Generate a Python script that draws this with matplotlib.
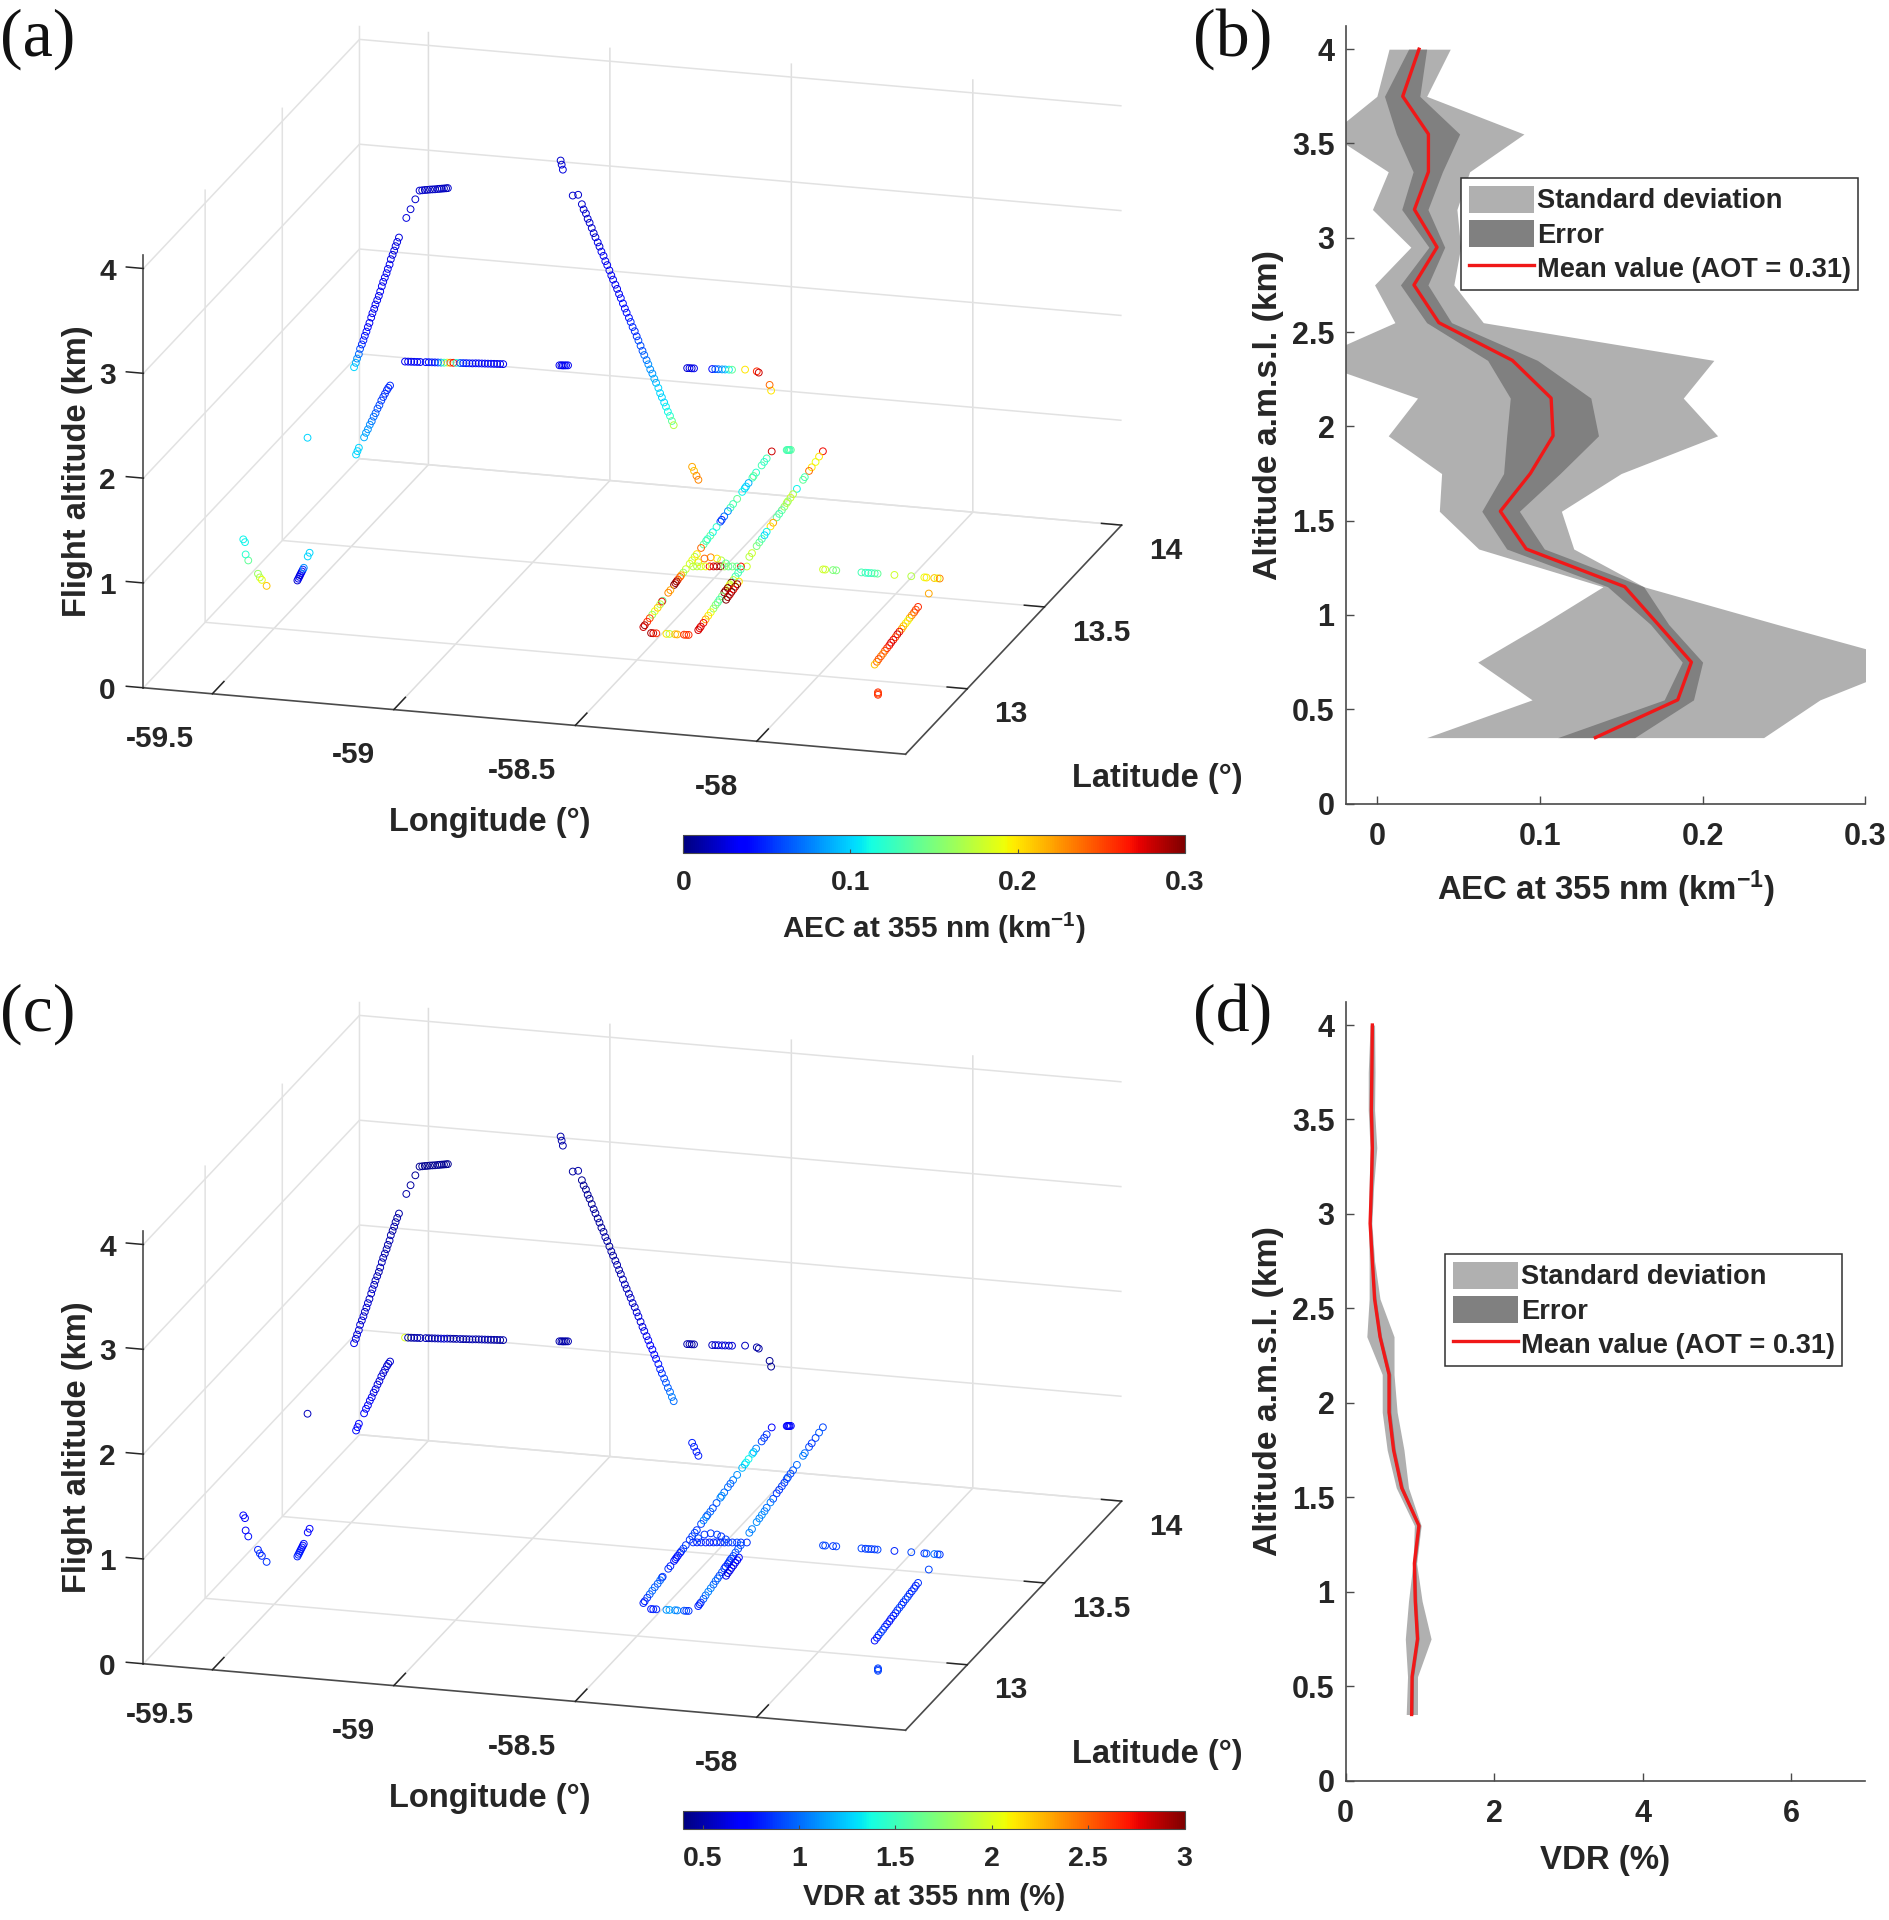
import numpy as np
import matplotlib
matplotlib.use("Agg")
import matplotlib.pyplot as plt
from matplotlib.patches import Patch
from matplotlib.lines import Line2D
from matplotlib.colors import Normalize
from matplotlib.cm import ScalarMappable
from matplotlib.text import Text

plt.rcParams['font.family'] = ['Liberation Sans', 'DejaVu Sans']
plt.rcParams['font.weight'] = 'bold'
plt.rcParams['axes.labelweight'] = 'bold'
plt.rcParams['mathtext.fontset'] = 'custom'
plt.rcParams['mathtext.rm'] = 'Liberation Sans:bold'
plt.rcParams['mathtext.bf'] = 'Liberation Sans:bold'
plt.rcParams['mathtext.default'] = 'bf'

W, H = 1890, 1920
# ---------------- flight tracks (lon, lat, alt, AEC, VDR) ----------------
a_lon = [-59.420,-59.416,-59.413,-59.409,-59.406,-59.402,-59.398,-59.395,-59.391,-59.388,-59.384,-59.380,-59.377,-59.373,-59.370,-59.366,-59.362,-59.359,-59.355,-59.352,-59.348,-59.344,-59.341,-59.337,-59.334,-59.330,-59.326,-59.323,-59.319,-59.315]
a_lat = [13.330,13.332,13.333,13.335,13.336,13.338,13.339,13.341,13.342,13.344,13.345,13.347,13.348,13.350,13.351,13.353,13.354,13.356,13.357,13.359,13.360,13.362,13.363,13.365,13.366,13.368,13.369,13.371,13.372,13.374]
a_alt = [2.00,2.04,2.08,2.12,2.17,2.21,2.25,2.29,2.33,2.37,2.41,2.46,2.50,2.54,2.58,2.62,2.66,2.70,2.75,2.79,2.83,2.87,2.91,2.95,3.00,3.04,3.08,3.12,3.16,3.20]
a_aec = [.10,.09,.08,.07,.06,.05,.045,.04,.04,.035,.03,.03,.03,.03,.03,.03,.03,.03,.03,.03,.03,.03,.03,.03,.025,.025,.025,.025,.025,.025]
a_vdr = [.65,.6,.6,.62,.6,.58,.6,.55,.58,.6,.55,.55,.58,.55,.52,.55,.5,.52,.55,.5,.52,.5,.5,.52,.5,.48,.5,.5,.48,.5]

b_lon = [-59.293,-59.283,-59.272,-59.262,-59.256,-59.250,-59.244,-59.238,-59.232,-59.226,-59.220,-59.215,-59.210,-59.205,-59.200,-59.196]
b_lat = [13.370,13.374,13.379,13.383,13.386,13.389,13.391,13.394,13.396,13.398,13.401,13.403,13.405,13.407,13.409,13.411]
b_alt = [3.40,3.48,3.57,3.65,3.65,3.65,3.65,3.65,3.65,3.65,3.65,3.65,3.65,3.65,3.65,3.65]
b_aec = [.025,.02,.02,.02,.02,.015,.02,.015,.02,.015,.02,.015,.02,.015,.015,.02]
b_vdr = [.5,.48,.46,.45,.45,.44,.45,.44,.45,.44,.46,.45,.44,.45,.44,.45]

c_lon = [-59.457,-59.454,-59.451,-59.440,-59.436,-59.432,-59.428,-59.424,-59.420,-59.416,-59.412,-59.408,-59.404,-59.400,-59.396,-59.392,-59.389,-59.385]
c_lat = [13.430,13.432,13.434,13.442,13.445,13.448,13.451,13.454,13.457,13.460,13.463,13.466,13.469,13.472,13.474,13.477,13.479,13.481]
c_alt = [1.00,1.03,1.06,1.15,1.19,1.22,1.26,1.29,1.33,1.36,1.40,1.43,1.47,1.50,1.53,1.56,1.58,1.60]
c_aec = [.10,.10,.10,.09,.085,.08,.08,.07,.07,.065,.06,.06,.055,.055,.05,.05,.05,.05]
c_vdr = [.75,.72,.7,.68,.7,.66,.68,.64,.62,.64,.6,.62,.6,.58,.6,.58,.6,.58]

d_lon = [-59.646,-59.641,-59.635,-59.629,-59.623,-59.584,-59.578,-59.572,-59.558]
d_lat = [13.560,13.132,13.129,13.119,13.122,13.093,13.091,13.090,13.088]
d_alt = [.90,.60,.58,.48,.42,.35,.32,.30,.25]
d_aec = [.10,.11,.11,.12,.14,.16,.17,.19,.21]
d_vdr = [.55,.72,.68,.72,.76,.8,.85,.82,.85]

e_lon = [-59.480,-59.477,-59.474,-59.471,-59.468,-59.465,-59.462,-59.459,-59.446,-59.440]
e_lat = [13.104,13.103,13.102,13.100,13.099,13.098,13.097,13.096,13.091,13.089]
e_alt = [.30,.32,.34,.36,.38,.40,.42,.44,.56,.60]
e_aec = [.02,.03,.03,.02,.03,.03,.05,.08,.10,.10]
e_vdr = [.8,.82,.78,.8,.76,.78,.74,.76,.7,.72]

f_lon = [-59.052,-59.044,-59.036,-59.028,-59.020,-59.012,-58.998,-58.990,-58.982,-58.974,-58.966,-58.958,-58.950,-58.942,-58.934,-58.926,-58.918,-58.908,-58.900,-58.892,-58.884,-58.876,-58.868,-58.860,-58.852,-58.844,-58.836,-58.828,-58.820,-58.812,-58.804,-58.796,
         -58.650,-58.645,-58.641,-58.637,-58.633,-58.628,
         -58.318,-58.312,-58.306,-58.300,
         -58.252,-58.244,-58.236,-58.226,-58.218,-58.208,-58.200,-58.167,-58.133,-58.125,-58.093,-58.088]
f_lat = [12.795,12.796,12.797,12.798,12.799,12.800,12.802,12.803,12.804,12.805,12.806,12.807,12.808,12.810,12.811,12.812,12.813,12.814,12.815,12.816,12.817,12.818,12.820,12.821,12.822,12.823,12.824,12.825,12.826,12.827,12.828,12.829,
         12.850,12.851,12.851,12.852,12.853,12.854,
         12.897,12.898,12.898,12.899,
         12.904,12.905,12.906,12.907,12.908,12.909,12.910,12.917,12.913,12.907,12.902,12.900]
f_alt = [3.00]*52 + [2.90,2.85]
f_aec = [.03,.03,.03,.03,.04,.03,.04,.04,.05,.04,.05,.08,.13,.19,.24,.27,.12,.06,.05,.04,.05,.03,.04,.03,.04,.03,.03,.04,.03,.03,.03,.03,
         .03,.02,.03,.04,.03,.03,
         .02,.03,.02,.03,
         .04,.06,.07,.08,.09,.11,.14,.20,.26,.28,.24,.20]
f_vdr = [2.0,.5,.48,.5,.52,.5,.55,.5,.48,.52,.5,.55,.6,.5,.52,.48,.5,.52,.5,.48,.5,.52,.5,.48,.5,.52,.5,.48,.5,.5,.48,.5,
         .5,.52,.5,.48,.5,.52,
         .5,.52,.48,.5,
         .55,.6,.58,.62,.6,.58,.6,.55,.5,.48,.45,.45]

g_lon = [-58.887,-58.882,-58.877,-58.840,-58.828,
         -58.811,-58.804,-58.796,-58.789,-58.782,-58.774,-58.767,-58.760,-58.752,-58.745,-58.738,-58.730,-58.723,-58.716,-58.708,-58.701,-58.694,-58.686,-58.679,-58.672,-58.665,-58.657,-58.650,-58.643,-58.635,-58.628,-58.621,-58.613,-58.606,-58.599,-58.591,-58.584,-58.577,-58.569,-58.562,-58.555,-58.547,-58.540,-58.533,-58.525,-58.518,-58.511,-58.503,-58.496,-58.489,-58.481,-58.474,-58.467]
g_lat = [13.415,13.410,13.406,13.383,13.390,
         13.374,13.369,13.365,13.360,13.356,13.351,13.347,13.342,13.338,13.333,13.329,13.324,13.319,13.315,13.310,13.306,13.301,13.297,13.292,13.288,13.283,13.278,13.274,13.269,13.265,13.260,13.256,13.251,13.247,13.242,13.237,13.233,13.228,13.224,13.219,13.215,13.210,13.206,13.201,13.197,13.192,13.187,13.183,13.178,13.174,13.169,13.165,13.160]
g_alt = [4.00,3.97,3.93,3.73,3.73,
         3.67,3.63,3.60,3.56,3.53,3.49,3.45,3.42,3.38,3.35,3.31,3.28,3.24,3.21,3.17,3.13,3.10,3.06,3.03,2.99,2.96,2.92,2.88,2.85,2.81,2.78,2.74,2.71,2.67,2.64,2.60,2.56,2.53,2.49,2.46,2.42,2.39,2.35,2.32,2.28,2.24,2.21,2.17,2.14,2.10,2.07,2.03,2.00]
g_aec = [.02,.02,.025,.02,.02,
         .02,.02,.02,.02,.02,.02,.02,.02,.03,.02,.03,.03,.03,.03,.03,.03,.03,.03,.03,.03,.04,.04,.04,.04,.04,.05,.05,.05,.05,.06,.06,.06,.07,.07,.08,.08,.08,.09,.09,.10,.10,.10,.10,.11,.11,.12,.14,.17]
g_vdr = [.5,.5,.5,.48,.5,
         .45,.46,.45,.47,.45,.46,.48,.46,.47,.48,.46,.48,.5,.48,.47,.5,.48,.5,.52,.5,.5,.52,.55,.52,.55,.55,.58,.55,.6,.62,.6,.62,.65,.65,.68,.7,.7,.72,.75,.78,.8,.85,.9,.95,.95,1.,1.05,1.]

h_lon = [-58.446,-58.439,-58.431,-58.424]
h_lat = [13.230,13.226,13.223,13.219]
h_alt = [1.50,1.47,1.43,1.40]
h_aec = [.22,.21,.23,.23]
h_vdr = [.8,.82,.78,.8]

i_lon = [-58.437,-58.438,-58.440,-58.442,-58.444,-58.446,-58.447,-58.449,-58.451,-58.451,-58.456,-58.457,-58.460,-58.461,-58.462,-58.463,-58.464,-58.465,-58.466,-58.468,-58.471,-58.473,-58.475,-58.476,-58.480,-58.482,-58.484,-58.485,-58.486,-58.488,-58.491,-58.494,-58.495,-58.497,-58.500,-58.502,-58.504,-58.506,-58.510,-58.512,-58.513,-58.515,-58.518,-58.519,-58.521,-58.524,-58.526,-58.528,-58.532]
i_lat = [12.893,12.904,12.925,12.946,12.967,12.988,13.009,13.030,13.046,13.051,13.099,13.115,13.146,13.157,13.167,13.178,13.194,13.204,13.220,13.241,13.273,13.294,13.315,13.331,13.368,13.389,13.410,13.421,13.442,13.463,13.494,13.526,13.537,13.558,13.589,13.610,13.632,13.663,13.705,13.726,13.737,13.758,13.790,13.800,13.821,13.864,13.885,13.906,13.948]
i_alt = [.50]*49
i_aec = [.28,.29,.26,.25,.16,.19,.21,.17,.27,.14,.23,.22,.30,.29,.29,.25,.24,.22,.16,.18,.18,.19,.17,.20,.24,.14,.13,.12,.14,.11,.12,.06,.05,.07,.08,.13,.13,.14,.11,.10,.10,.09,.13,.14,.12,.13,.12,.13,.28]
i_vdr = [.8,.82,.85,.95,1.,.95,.95,1.,.85,.9,.85,.8,.78,.75,.8,.75,.8,.85,.9,.85,.85,.9,.9,.85,.9,1.1,1.,.95,1.,.9,.95,1.05,1.1,1.,1.,.95,1.05,1.1,1.2,1.3,1.35,1.35,1.3,1.2,1.05,.9,.85,.85,.7]

j_lon = [-58.497,-58.495,-58.492,-58.490,-58.487]
j_lat = [13.963,13.964,13.964,13.965,13.966]
j_alt = [.50,.50,.50,.50,.50]
j_aec = [.13,.14,.13,.13,.14]
j_vdr = [.7,.72,.68,.75,.7]

k_lon = [-58.290,-58.291,-58.292,-58.294,-58.297,-58.299,-58.301,-58.303,-58.306,-58.307,-58.309,-58.311,-58.314,-58.315,-58.316,-58.317,-58.319,-58.320,-58.321,-58.324,-58.326,-58.328,-58.336,-58.338,-58.343,-58.345,-58.347,-58.349,-58.352,-58.355,-58.357,-58.361,-58.363,-58.365,-58.367,-58.370,-58.371,-58.373,-58.375,-58.378,-58.384,-58.386,-58.390,-58.392,-58.395,-58.399,-58.402]
k_lat = [12.903,12.914,12.924,12.946,12.967,12.989,13.010,13.032,13.053,13.069,13.085,13.106,13.128,13.139,13.155,13.165,13.176,13.187,13.203,13.224,13.246,13.267,13.342,13.364,13.406,13.428,13.449,13.471,13.492,13.524,13.546,13.578,13.599,13.621,13.642,13.664,13.674,13.696,13.717,13.749,13.803,13.819,13.856,13.878,13.910,13.942,13.974]
k_alt = [.50]*47
k_aec = [.28,.27,.28,.27,.22,.20,.19,.16,.15,.14,.13,.15,.30,.29,.30,.19,.18,.30,.17,.13,.13,.13,.17,.18,.15,.14,.13,.10,.11,.20,.22,.14,.13,.14,.16,.17,.16,.18,.17,.11,.14,.13,.24,.20,.19,.20,.27]
k_vdr = [.8,.82,.85,.95,1.,1.05,1.05,.95,1.,.95,.9,.95,.85,.8,.85,.85,.9,.85,.9,.95,.9,.95,1.05,1.05,1.1,1.05,1.1,1.05,1.,1.05,.9,.85,.85,.9,.85,.95,.9,.9,.95,1.,1.05,1.,.9,.85,.9,.95,.9]

l_lon = [-58.403,-58.397,-58.389,-58.362,-58.354,-58.339,-58.333,-58.315,-58.309,-58.303]
l_lat = [12.863,12.863,12.864,12.866,12.867,12.868,12.868,12.870,12.870,12.871]
l_alt = [.50]*10
l_aec = [.29,.28,.26,.20,.17,.21,.22,.26,.25,.26]
l_vdr = [.78,.8,.82,1.1,1.15,1.1,1.05,.95,.9,.85]

m_lon = [-58.456,-58.446,-58.436,-58.424,-58.414,-58.404,-58.396,-58.386,-58.376,-58.366,-58.356,-58.344,-58.334,-58.319,
         -58.453,-58.446,-58.433,-58.414,-58.399,-58.380]
m_lat = [13.260,13.262,13.264,13.266,13.268,13.270,13.272,13.274,13.275,13.277,13.279,13.281,13.283,13.286,
         13.286,13.310,13.320,13.316,13.308,13.293]
m_alt = [.50]*20
m_aec = [.17,.17,.18,.19,.27,.28,.29,.29,.16,.14,.15,.14,.27,.18,
         .20,.24,.23,.20,.17,.14]
m_vdr = [.85,.8,.85,.8,.78,.85,.8,.85,.85,.9,.85,.9,.85,.85,
         .9,.85,.85,.9,.85,.9]

n_lon = [-58.292,-58.294,-58.295,-58.297,-58.298,-58.300,-58.301,-58.303]
n_lat = [13.088,13.104,13.119,13.135,13.150,13.166,13.181,13.197]
n_alt = [.50]*8
n_aec = [.30,.29,.28,.30,.27,.30,.29,.20]
n_vdr = [.65,.6,.7,.62,.68,.65,.7,.75]

o_lon = [-58.118,-58.112,-58.091,-58.082,-58.013,-58.002,-57.994,-57.986,-57.977,-57.969,-57.923,-57.877,-57.841,-57.835,-57.814,-57.805,-57.799,-57.816]
o_lat = [13.307,13.307,13.308,13.308,13.309,13.309,13.309,13.310,13.310,13.310,13.311,13.312,13.312,13.312,13.313,13.313,13.313,13.282]
o_alt = [.50]*17 + [.40]
o_aec = [.18,.18,.15,.15,.13,.13,.12,.13,.13,.14,.18,.17,.19,.20,.21,.19,.23,.22]
o_vdr = [.9,.9,.85,.9,.9,.85,.9,.88,.85,.9,.82,.9,.85,.95,1.,.95,.85,.9]

p_lon = [-57.758,-57.759,-57.761,-57.762,-57.763,-57.765,-57.766,-57.767,-57.769,-57.770,-57.771,-57.773,-57.774,-57.775,-57.777,-57.778,-57.779,-57.781,-57.782,-57.783,-57.785,-57.786]
p_lat = [12.795,12.812,12.828,12.845,12.861,12.878,12.894,12.911,12.927,12.944,12.960,12.977,12.993,13.010,13.026,13.043,13.059,13.076,13.092,13.109,13.125,13.142]
p_alt = [.50]*22
p_aec = [.21,.24,.25,.24,.23,.25,.26,.27,.28,.27,.25,.28,.27,.22,.21,.20,.19,.22,.23,.25,.25,.26]
p_vdr = [.75,.8,.85,.9,.85,.82,.78,.75,.8,.78,.82,.85,.9,.82,.85,.9,.85,.82,.85,.82,.8,.85]

q_lon = [-57.683,-57.680,-57.677]
q_lat = [12.640,12.633,12.626]
q_alt = [.50,.50,.50]
q_aec = [.26,.25,.26]
q_vdr = [.9,.85,.9]

# ---------------- vertical profiles ----------------
alt_b = [.35,.55,.75,.95,1.15,1.35,1.55,1.75,1.95,2.15,2.35,2.55,2.75,2.95,3.15,3.35,3.55,3.75,4.0]
aec_mean = [.134,.1846,.193,.1726,.152,.0915,.0756,.094,.108,.1068,.083,.0378,.0225,.0367,.0228,.0314,.0314,.0156,.0256]
aec_std_lo = [.0303,.0951,.0617,.1012,.1387,.0623,.0381,.0395,.0067,.0247,-.0415,.0108,-.0017,.0206,-.003,.0067,-.029,-.0003,.0072]
aec_std_hi = [.2374,.272,.33,.2457,.1637,.1207,.1131,.1498,.2091,.188,.2068,.0651,.047,.0512,.0489,.0567,.0901,.0303,.0448]
aec_err_lo = [.1109,.1763,.1874,.1679,.1415,.0795,.0642,.0776,.0795,.0817,.0678,.0303,.0142,.0317,.015,.022,.0117,.0044,.0192]
aec_err_hi = [.1582,.1943,.1999,.179,.1637,.1026,.0873,.1123,.1359,.1312,.0984,.0456,.0311,.0414,.0311,.04,.0506,.0261,.0303]

vdr_mean = [.889,.895,.968,.938,.926,.987,.755,.646,.585,.585,.463,.39,.36,.33,.347,.36,.347,.353,.36]
vdr_std_lo = [.816,.834,.804,.847,.907,.926,.682,.56,.493,.493,.286,.317,.317,.31,.317,.329,.305,.305,.33]
vdr_std_hi = [.968,.968,1.151,1.03,.956,1.017,.847,.786,.694,.652,.652,.463,.39,.353,.378,.42,.39,.396,.39]
vdr_err_lo = [.87,.875,.945,.915,.905,.965,.73,.625,.56,.56,.44,.37,.345,.315,.33,.345,.33,.335,.345]
vdr_err_hi = [.91,.915,.99,.96,.945,1.005,.78,.67,.61,.61,.485,.41,.375,.345,.365,.375,.365,.37,.375]

cbar_a_ticks = [0, .1, .2, .3]
cbar_c_ticks = [.5, 1, 1.5, 2, 2.5, 3]
lon_ticks = [-59.5, -59, -58.5, -58]
lat_ticks = [13, 13.5, 14]
alt_ticks = [0, 1, 2, 3, 4]
prof_y_ticks = [0, .5, 1, 1.5, 2, 2.5, 3, 3.5, 4]

track_lon = np.concatenate([a_lon,b_lon,c_lon,d_lon,e_lon,f_lon,g_lon,h_lon,i_lon,j_lon,k_lon,l_lon,m_lon,n_lon,o_lon,p_lon,q_lon])
track_lat = np.concatenate([a_lat,b_lat,c_lat,d_lat,e_lat,f_lat,g_lat,h_lat,i_lat,j_lat,k_lat,l_lat,m_lat,n_lat,o_lat,p_lat,q_lat])
track_alt = np.concatenate([a_alt,b_alt,c_alt,d_alt,e_alt,f_alt,g_alt,h_alt,i_alt,j_alt,k_alt,l_alt,m_alt,n_alt,o_alt,p_alt,q_alt])
track_aec = np.concatenate([a_aec,b_aec,c_aec,d_aec,e_aec,f_aec,g_aec,h_aec,i_aec,j_aec,k_aec,l_aec,m_aec,n_aec,o_aec,p_aec,q_aec])
track_vdr = np.concatenate([a_vdr,b_vdr,c_vdr,d_vdr,e_vdr,f_vdr,g_vdr,h_vdr,i_vdr,j_vdr,k_vdr,l_vdr,m_vdr,n_vdr,o_vdr,p_vdr,q_vdr])

# ---------------- layout ----------------
fig = plt.figure(figsize=(W/100, H/100), dpi=100, facecolor='white')
TXT = '#262626'
AX = '#4a4a4a'
D3 = 800          # side of the square 3D axes, pixels
PER_PX = .185/D3  # the 2D view of Axes3D spans -0.095..0.09 on both sides

def rect(x0, y0, x1, y1):
    """pixel box (image coordinates, y down) to figure fractions"""
    return [x0/W, 1-y1/H, (x1-x0)/W, (y1-y0)/H]

def pin_label(lab, x, y, dy):
    """keep a 3D axis label at a fixed pixel place (the axis draws it in its 2D view units)"""
    lab.set_position = lambda *_: None
    lab.set_x(-.095 + (x-221.7)*PER_PX)
    lab.set_y(-.095 + (0.8+D3+dy-y)*PER_PX)

def nudge_ticklabels(axis, dx, dy):
    """shift the tick labels of a 3D axis by some pixels (right, up)"""
    for tick in axis.get_major_ticks():
        lab = tick.label1
        lab.set_position = (lambda l: lambda xy: Text.set_position(l, (xy[0]+dx*PER_PX, xy[1]+dy*PER_PX)))(lab)

def panel3d(dy, vals, norm):
    ax = fig.add_axes(rect(221.7, 0.8+dy, 221.7+D3, 0.8+D3+dy), projection='3d', proj_type='ortho', facecolor='none')
    ax.patch.set_alpha(0)
    ax.set_xlim(-59.69, -57.59); ax.set_ylim(12.6, 14.0); ax.set_zlim(0, 4.13)
    ax.set_box_aspect((793, 784, 454.5), zoom=1.461)
    ax.view_init(elev=17.7, azim=-74)
    ax.scatter(track_lon, track_lat, track_alt, c=vals, cmap='jet', norm=norm, s=24,
               facecolors='none', linewidths=0.7, depthshade=False)
    coll = ax.collections[0]
    coll.set_facecolor('none')
    coll.set_edgecolor(plt.get_cmap('jet')(norm(vals)))
    ax.set_xticks(lon_ticks); ax.set_xticklabels(['-59.5', '-59', '-58.5', '-58'])
    ax.set_yticks(lat_ticks); ax.set_yticklabels(['13', '13.5', '14'])
    ax.set_zticks(alt_ticks); ax.set_zticklabels(['0', '1', '2', '3', '4'])
    for axis, out, grid in ((ax.xaxis, .67, '#dedede'), (ax.yaxis, .33, '#e2e2e2'), (ax.zaxis, .28, '#e2e2e2')):
        axis.set_pane_color((1, 1, 1, 0))
        axis.pane.set_edgecolor('none')
        axis.line.set_color(AX)
        axis.line.set_linewidth(1.2)
        axis._axinfo['grid'].update(color=grid, linewidth=1.1)
        axis._axinfo['tick'].update(inward_factor=0.0, outward_factor=out, linewidth={True: 1.1, False: 1.1}, color=AX)
    ax.zaxis.set_ticks_position('lower')
    ax.zaxis.set_label_position('lower')
    ax.zaxis._get_tickdir = lambda position: 0
    ax.tick_params(axis='both', labelsize=21.5, colors=TXT)
    ax.tick_params(axis='z', labelsize=21.5, colors=TXT, pad=6)
    ax.tick_params(axis='x', pad=13)
    for t in ax.get_xticklabels():
        t.set_ha('right')
    for t in ax.get_yticklabels():
        t.set_ha('left'); t.set_va('center')
    nudge_ticklabels(ax.xaxis, -3.7, 15)
    nudge_ticklabels(ax.yaxis, -2, -6.5)
    nudge_ticklabels(ax.zaxis, 9.8, 18.4)
    ax.xaxis.set_rotate_label(False); ax.yaxis.set_rotate_label(False); ax.zaxis.set_rotate_label(False)
    ax.set_xlabel('Longitude (°)', fontsize=23.5, color=TXT, rotation=0)
    ax.set_ylabel('Latitude (°)', fontsize=23.5, color=TXT, rotation=0)
    ax.set_zlabel('Flight altitude (km)', fontsize=23.5, color=TXT, rotation=90)
    pin_label(ax.xaxis.label, 490, 823+dy, dy)
    pin_label(ax.yaxis.label, 1157, 778+dy, dy)
    pin_label(ax.zaxis.label, 78, 471+dy, dy)
    return ax

def colorbar(y0, y1, norm, ticks, labels, label, pad):
    cax = fig.add_axes(rect(683.4, y0, 1184.7, y1))
    cb = fig.colorbar(ScalarMappable(norm=norm, cmap='jet'), cax=cax, orientation='horizontal')
    cb.set_ticks(ticks); cb.set_ticklabels(labels)
    cb.ax.tick_params(direction='in', length=3, width=0.8, color=AX, labelsize=20.5, labelcolor=TXT, pad=12.5)
    cb.outline.set_edgecolor(AX); cb.outline.set_linewidth(0.8)
    cb.set_label(label, fontsize=21.3, color=TXT, labelpad=pad)

def profile(box, xlim, xticks, xlabels, xlabel, lo, hi, elo, ehi, mean, legend_xy):
    ax = fig.add_axes(rect(*box))
    ax.fill_betweenx(alt_b, lo, hi, color='#b0b0b0', lw=0)
    ax.fill_betweenx(alt_b, elo, ehi, color='#808080', lw=0)
    ax.plot(mean, alt_b, color='#f01818', lw=2.4)
    ax.set_xlim(*xlim); ax.set_ylim(0, 4.124)
    ax.set_xticks(xticks); ax.set_xticklabels(xlabels)
    ax.set_yticks(prof_y_ticks); ax.set_yticklabels(['0', '0.5', '1', '1.5', '2', '2.5', '3', '3.5', '4'])
    ax.tick_params(direction='in', length=6, width=1, color=AX, labelsize=22, labelcolor=TXT, pad=8)
    ax.tick_params(axis='x', pad=13)
    for s in ('top', 'right'):
        ax.spines[s].set_visible(False)
    for s in ('left', 'bottom'):
        ax.spines[s].set_color(AX); ax.spines[s].set_linewidth(1.2)
    ax.set_xlabel(xlabel, fontsize=23.8, color=TXT, labelpad=12)
    ax.set_ylabel('Altitude a.m.s.l. (km)', fontsize=24.3, color=TXT, va='center')
    ax.yaxis.set_label_coords(-.148, .5)
    handles = [Patch(color='#b0b0b0', lw=0), Patch(color='#808080', lw=0), Line2D([0], [0], color='#f01818', lw=2.4)]
    leg = ax.legend(handles, ['Standard deviation', 'Error', 'Mean value (AOT = 0.31)'],
                    loc='upper left', bbox_to_anchor=(legend_xy[0]/W, 1-legend_xy[1]/H), bbox_transform=fig.transFigure,
                    fontsize=19.6, fancybox=False, framealpha=1, edgecolor='#303030', borderaxespad=0,
                    handlelength=2.4, handleheight=1.15, handletextpad=0.1, labelspacing=0.2, borderpad=0.28,
                    labelcolor=TXT)
    leg.get_frame().set_linewidth(1.1)
    return ax

norm_aec = Normalize(0, .3)
norm_vdr = Normalize(.4, 3)

panel3d(0, track_aec, norm_aec)
panel3d(976, track_vdr, norm_vdr)
colorbar(835, 852.5, norm_aec, cbar_a_ticks, ['0', '0.1', '0.2', '0.3'], r'AEC at 355 nm (km$^{\mathbf{-1}}$)', 10.5)
colorbar(1811, 1829, norm_vdr, cbar_c_ticks, ['0.5', '1', '1.5', '2', '2.5', '3'], 'VDR at 355 nm (%)', 8)

profile((1345.6, 25.8, 1865.5, 803.6), (-.0195, .3), [0, .1, .2, .3], ['0', '0.1', '0.2', '0.3'],
        r'AEC at 355 nm (km$^{\mathbf{-1}}$)', aec_std_lo, aec_std_hi, aec_err_lo, aec_err_hi, aec_mean, (1461, 178))
profile((1345.6, 1001.6, 1865.5, 1780.6), (0, 7), [0, 2, 4, 6], ['0', '2', '4', '6'],
        'VDR (%)', vdr_std_lo, vdr_std_hi, vdr_err_lo, vdr_err_hi, vdr_mean, (1445, 1254))

for s, x, y in [('(a)', 0, 39), ('(b)', 1193, 39), ('(c)', 0, 1014), ('(d)', 1193, 1014)]:
    fig.text(x/W, 1-y/H, s, family='Liberation Serif', fontsize=49, fontweight='normal', color='#111111', va='center', ha='left')

fig.savefig('out.png', dpi=100)
